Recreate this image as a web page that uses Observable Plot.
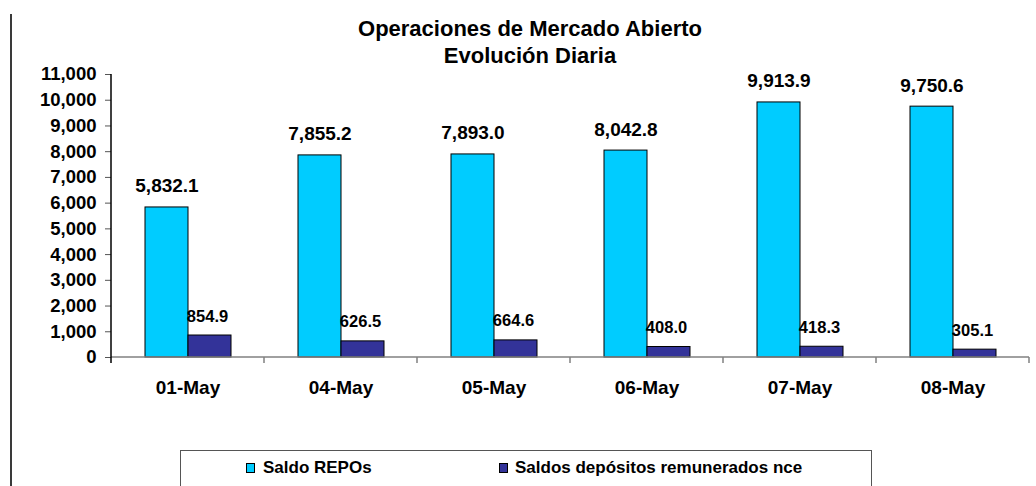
<!DOCTYPE html>
<html>
<head>
<meta charset="utf-8">
<script src="https://cdn.jsdelivr.net/npm/d3@7"></script>
<script src="https://cdn.jsdelivr.net/npm/@observablehq/plot@0.6"></script>
<style>
  body { margin: 0; background: #fff; }
  #wrap { position: relative; width: 1036px; height: 486px; overflow: hidden;
          font-family: "Liberation Sans", Arial, sans-serif; font-weight: bold; color: #000; }
  #leftline { position: absolute; left: 10px; top: 14px; width: 2px; height: 480px; background: #3a3a3a; }
  #title { position: absolute; left: 280px; width: 500px; top: 15px; text-align: center;
           font-size: 22px; line-height: 27px; }
  #chart { position: absolute; left: 0; top: 40px; }
  #legend { position: absolute; left: 180px; top: 450px; width: 692px; height: 60px;
            border: 1px solid #555; box-sizing: border-box; }
  .sw { position: absolute; width: 7px; height: 8px; border: 1px solid #000; top: 12px; }
  .lt { position: absolute; font-size: 17px; line-height: 17px; top: 8px; white-space: nowrap; }
</style>
</head>
<body>
<div id="wrap">
  <div id="leftline"></div>
  <div id="chart"></div>
  <div id="title">Operaciones de Mercado Abierto<br>Evolución Diaria</div>
  <div id="legend"></div>
</div>
<script>
const dates = ["01-May", "04-May", "05-May", "06-May", "07-May", "08-May"];
const series = ["Saldo REPOs", "Saldos depósitos remunerados nce"];
const repos = [5832.1, 7855.2, 7893.0, 8042.8, 9913.9, 9750.6];
const depositos = [854.9, 626.5, 664.6, 408.0, 418.3, 305.1];
const yTicks = [0, 1000, 2000, 3000, 4000, 5000, 6000, 7000, 8000, 9000, 10000, 11000];
const colors = ["#00CCFF", "#333399"];

const rows = dates.flatMap((d, i) => [
  {date: d, serie: series[0], value: repos[i]},
  {date: d, serie: series[1], value: depositos[i]}
]);
const fmt = d3.format(",.1f");

const plot = Plot.plot({
  width: 1036,
  height: 380,
  marginTop: 34,
  marginBottom: 63,
  marginLeft: 110,
  marginRight: 7,
  style: {fontFamily: "'Liberation Sans', Arial, sans-serif", fontWeight: "bold", color: "#000", background: "transparent"},
  fx: {domain: dates, padding: 0, label: null},
  x: {domain: series, paddingInner: 0, paddingOuter: 0.74, axis: null},
  y: {domain: [0, 11000], label: null},
  color: {domain: series, range: colors},
  marks: [
    Plot.barY(rows, {fx: "date", x: "serie", y: "value", fill: "serie", stroke: "#000", strokeWidth: 1}),
    Plot.text(rows.filter(r => r.serie === series[0]), {
      fx: "date", x: "serie", y: "value", text: d => fmt(d.value),
      dy: -15, lineAnchor: "bottom", fontSize: 19, fill: "#000"
    }),
    Plot.text(rows.filter(r => r.serie === series[1]), {
      fx: "date", x: "serie", y: "value", text: d => fmt(d.value),
      dy: -14, dx: -2.5, lineAnchor: "bottom", fontSize: 16.5, fill: "#000"
    }),
    Plot.axisY({ticks: yTicks, tickFormat: d3.format(","), tickSize: 6, tickPadding: 9,
                fontSize: 18.5, stroke: "#555", fill: "#000", label: null}),
    Plot.axisFx({anchor: "bottom", tickSize: 0, tickPadding: 23, fontSize: 19, fill: "#000", label: null})
  ]
});

// axis lines and category boundary ticks, positioned through the plot's scales
const fx = plot.scale("fx");
const y = plot.scale("y");
const y0 = y.apply(0);
const yTop = y.apply(11000);
const xs = dates.map(d => fx.apply(d));
xs.push(xs[xs.length - 1] + fx.bandwidth);
const g = d3.select(plot).append("g");
g.append("line").attr("x1", xs[0]).attr("x2", xs[xs.length - 1]).attr("y1", y0).attr("y2", y0)
  .attr("stroke", "#808080").attr("stroke-width", 1.5);
g.selectAll("line.b").data(xs.slice(1)).join("line").attr("class", "b")
  .attr("x1", d => d).attr("x2", d => d).attr("y1", y0).attr("y2", y0 + 6)
  .attr("stroke", "#808080").attr("stroke-width", 1.5);
g.append("line").attr("x1", xs[0]).attr("x2", xs[0]).attr("y1", yTop).attr("y2", y0 + 6)
  .attr("stroke", "#000").attr("stroke-width", 1.5);

document.getElementById("chart").appendChild(plot);

// legend
const legend = d3.select("#legend");
const pos = [[65, 82], [318, 334]];
series.forEach((s, i) => {
  legend.append("div").attr("class", "sw").style("left", pos[i][0] + "px").style("background", colors[i]);
  legend.append("div").attr("class", "lt").style("left", pos[i][1] + "px").text(s);
});
</script>
</body>
</html>
